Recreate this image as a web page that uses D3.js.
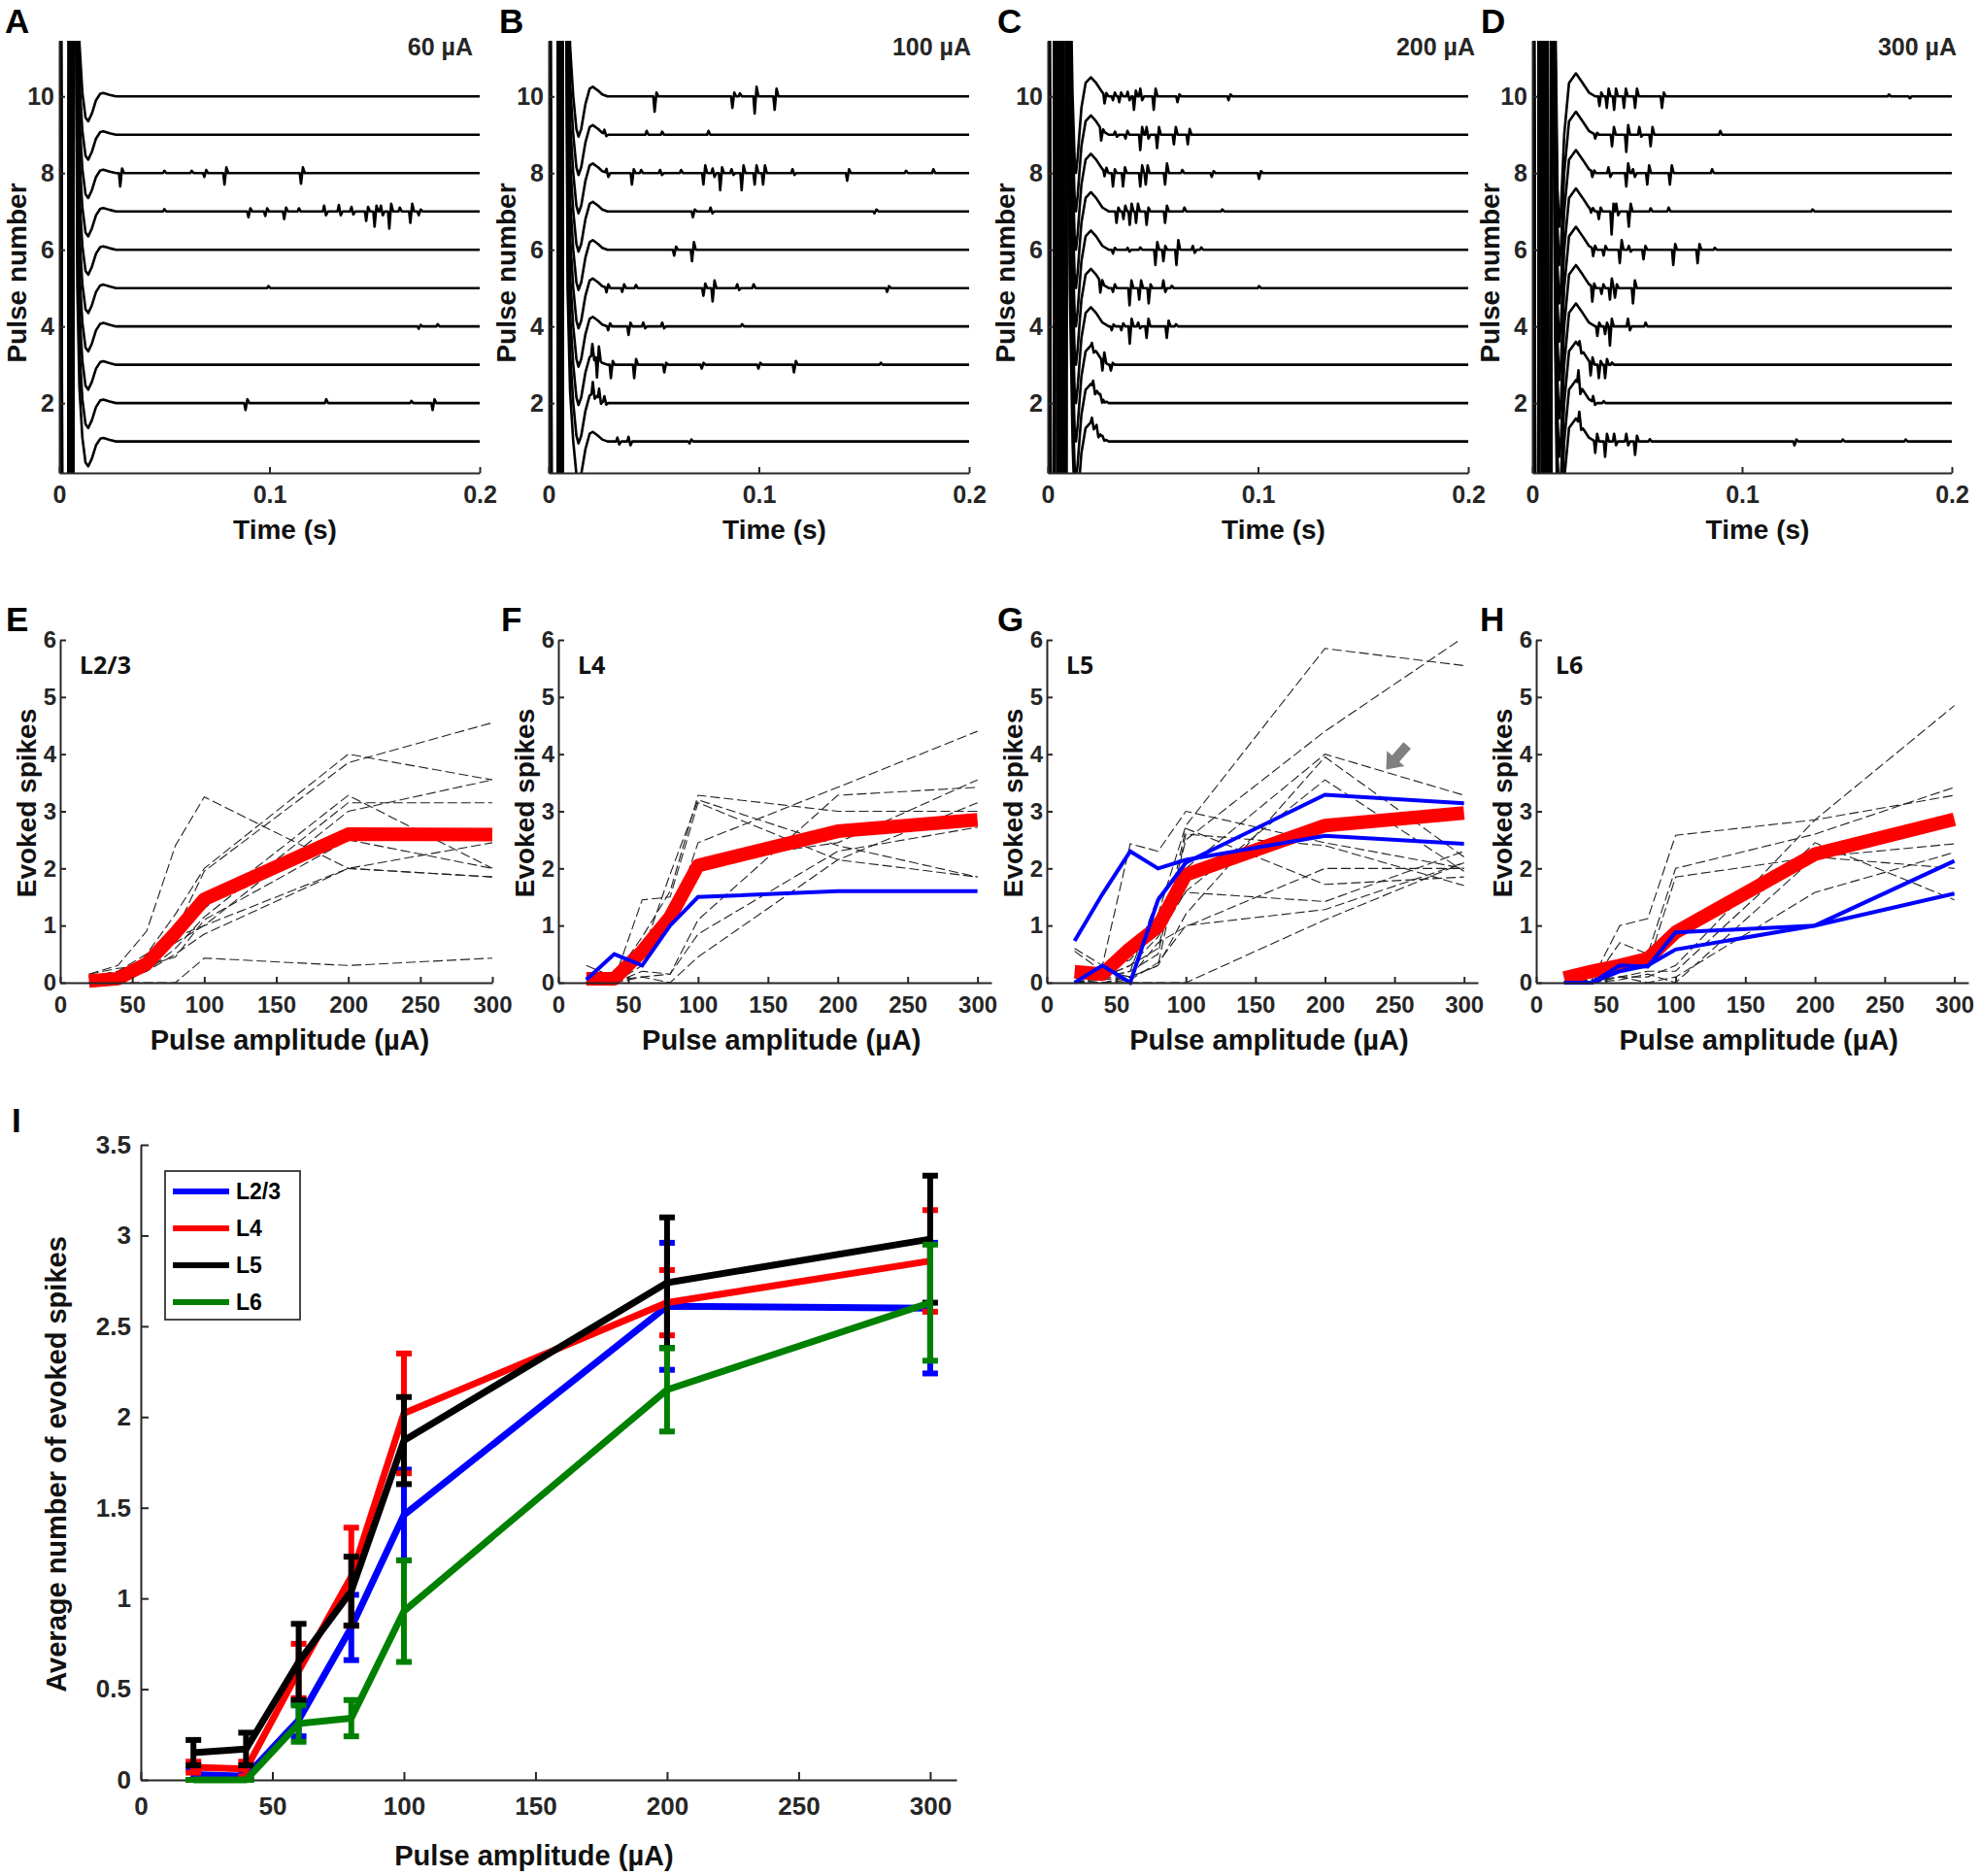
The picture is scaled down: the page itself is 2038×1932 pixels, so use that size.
<!DOCTYPE html>
<html>
<head>
<meta charset="utf-8">
<script src="https://cdn.jsdelivr.net/npm/d3@7"></script>
<style>
body { margin: 0; background: #fff; }
svg { font-family: "Liberation Sans", Arial, sans-serif; font-weight: bold; }
</style>
</head>
<body>
<svg width="2038" height="1932"></svg>
<script>
// ---------- data: raw traces (A-D) ----------
const pulses = [1, 2, 3, 4, 5, 6, 7, 8, 9, 10]
const timeTicks = [0, 0.1, 0.2]
const pulseTicks = [2, 4, 6, 8, 10]
const traceTitles = ["60 µA", "100 µA", "200 µA", "300 µA"]

// stimulus artifact + evoked field shape, [time s, offset in pulse units]
const shape60 = [[0,0],[0.0004,15],[0.0016,-15],[0.0044,-15],[0.0048,15],[0.0058,15],[0.0061,-15],[0.0066,-15],[0.0069,15],[0.0078,15],[0.0086,4],[0.0096,1.4],[0.011,0.1],[0.0125,-0.55],[0.0138,-0.65],[0.0155,-0.45],[0.0175,-0.1],[0.0195,0.07],[0.021,0.09],[0.024,0.04],[0.027,0]]
const shape100 = [[0,0],[0.0004,15],[0.0016,-15],[0.0042,-15],[0.0046,15],[0.0056,15],[0.0059,-15],[0.0064,-15],[0.0068,15],[0.0082,15],[0.009,4],[0.0102,1.3],[0.0117,0],[0.0132,-0.85],[0.0142,-1.05],[0.0155,-0.85],[0.0175,-0.2],[0.0195,0.2],[0.021,0.25],[0.0235,0.15],[0.0255,0.05],[0.028,0]]
const shape200 = [[0,0],[0.0004,15],[0.0016,-15],[0.003,-15],[0.0033,15],[0.0045,15],[0.0048,-15],[0.0058,-15],[0.0061,15],[0.007,15],[0.0073,-15],[0.0086,-15],[0.0089,15],[0.0094,15],[0.0105,4],[0.0118,0],[0.0128,-1.7],[0.0134,-2.0],[0.0142,-1.6],[0.016,-0.3],[0.018,0.35],[0.0205,0.5],[0.023,0.35],[0.026,0.1],[0.029,0]]
const shape300 = [[0,0],[0.0004,15],[0.0016,-15],[0.003,-15],[0.0033,15],[0.0045,15],[0.0048,-15],[0.0058,-15],[0.0061,15],[0.0072,15],[0.0075,-15],[0.0088,-15],[0.0091,15],[0.0097,15],[0.0108,3],[0.012,-2.4],[0.0128,-3.4],[0.0136,-3.0],[0.0152,-1.0],[0.0175,0.35],[0.0208,0.6],[0.024,0.35],[0.027,0.1],[0.03,0]]

// spikes per pulse (pulse 1 first): [time s, peak, rebound]
const spikes60 = [
  [],
  [[0.0886,-0.18,0.1],[0.127,0.1,0],[0.1675,0.06,0],[0.1776,-0.18,0.1]],
  [],
  [[0.171,-0.06,0.04],[0.18,0.06,0]],
  [[0.0995,0.05,0]],
  [],
  [[0.05,0.06,0],[0.09,-0.15,0.08],[0.098,-0.12,0.08],[0.107,-0.2,0.1],[0.114,0.08,0],[0.126,0.15,-0.1],[0.133,0.17,-0.1],[0.139,0.12,-0.08],[0.146,-0.25,0.12],[0.15,-0.4,0.15],[0.153,0.15,-0.1],[0.157,-0.45,0.2],[0.162,0.1,0],[0.167,-0.3,0.2],[0.171,-0.1,0.05]],
  [[0.029,-0.35,0.12],[0.05,0.06,0],[0.063,0.06,0],[0.069,-0.1,0.08],[0.0786,-0.3,0.15],[0.115,-0.28,0.15]],
  [],
  []
]
const spikes100 = [
  [[0.0327,0.1,-0.08],[0.038,0.12,-0.1],[0.067,-0.05,0.05]],
  [[0.021,0.3,-0.1],[0.024,0.25,-0.1],[0.0265,0.15,-0.05]],
  [[0.0208,0.3,-0.1],[0.023,-0.5,0.35],[0.0296,-0.35,0.1],[0.0407,-0.35,0.15],[0.055,-0.2,0.05],[0.0728,-0.1,0.05],[0.0998,-0.1,0.05],[0.1167,-0.2,0.1],[0.158,0.05,0]],
  [[0.0283,-0.1,0.08],[0.038,-0.22,0.1],[0.045,0.1,-0.05],[0.054,0.1,-0.05],[0.092,0.06,0]],
  [[0.0275,-0.12,0.1],[0.035,-0.1,0.1],[0.0415,0.08,0],[0.0736,-0.2,0.12],[0.078,-0.35,0.2],[0.0897,0.1,-0.05],[0.0975,0.1,0],[0.161,-0.1,0.05]],
  [[0.0597,-0.15,0.08],[0.0682,-0.3,0.2]],
  [[0.0686,-0.15,0.05],[0.077,0.1,-0.05],[0.155,-0.05,0.05]],
  [[0.0275,0.1,-0.1],[0.0396,-0.3,0.1],[0.044,0.08,0],[0.053,0.08,-0.05],[0.063,0.08,0],[0.0736,-0.3,0.2],[0.078,0.12,-0.1],[0.0816,-0.45,0.15],[0.087,0.1,-0.05],[0.0918,-0.45,0.2],[0.098,-0.3,0.2],[0.102,-0.3,0.2],[0.116,0.1,-0.05],[0.142,-0.2,0.1],[0.17,0.06,0],[0.183,0.1,0]],
  [[0.0265,0.1,-0.05],[0.0466,0.1,0],[0.054,0.08,0],[0.076,0.1,0]],
  [[0.0504,-0.4,0.1],[0.0874,-0.3,0.1],[0.091,0.08,0],[0.098,-0.45,0.25],[0.1075,-0.35,0.2]]
]
const spikes200 = [
  [[0.021,0.15,-0.1],[0.0232,0.1,-0.15],[0.026,0.05,-0.05]],
  [[0.0216,0.15,-0.15],[0.025,0.05,-0.1],[0.027,-0.05,0]],
  [[0.021,0.1,-0.1],[0.026,-0.25,0.25],[0.03,-0.15,0.05]],
  [[0.0304,-0.1,0.05],[0.035,-0.1,0.08],[0.039,-0.45,0.2],[0.043,0.1,-0.05],[0.047,-0.3,0.2],[0.0566,-0.3,0.15],[0.061,0.06,0]],
  [[0.025,-0.3,0.1],[0.031,-0.1,0.1],[0.0389,-0.45,0.2],[0.0435,-0.3,0.2],[0.048,-0.4,0.1],[0.055,0.2,-0.1],[0.059,0.06,0],[0.1005,0.05,0]],
  [[0.031,-0.1,0.05],[0.038,0.05,-0.05],[0.044,0.06,0],[0.0512,-0.4,0.2],[0.055,-0.3,0.1],[0.0612,-0.4,0.25],[0.069,0.1,-0.08],[0.073,0.06,0]],
  [[0.0327,-0.3,0.1],[0.036,-0.2,0.15],[0.039,-0.35,0.2],[0.042,-0.3,0.2],[0.047,-0.35,0.1],[0.0558,-0.3,0.15],[0.065,0.1,0],[0.083,0.05,0]],
  [[0.027,-0.15,0.1],[0.031,-0.35,0.1],[0.0358,-0.35,0.15],[0.044,-0.35,0.2],[0.0466,-0.3,0.2],[0.0558,-0.3,0.25],[0.064,0.08,0],[0.078,-0.1,0.05],[0.1005,-0.15,0.05]],
  [[0.0254,-0.3,0.05],[0.032,0.08,-0.05],[0.037,-0.1,0.1],[0.044,-0.4,0.2],[0.047,0.2,-0.1],[0.052,-0.35,0.2],[0.06,-0.25,0.2],[0.0666,-0.25,0.15]],
  [[0.027,-0.25,0.05],[0.031,-0.1,0.1],[0.034,-0.15,0.1],[0.038,0.12,-0.1],[0.041,-0.35,0.15],[0.044,0.2,-0.1],[0.0504,-0.35,0.2],[0.0617,-0.15,0.05],[0.086,-0.1,0.05]]
]
const spikes300 = [
  [[0.0224,0.3,-0.1],[0.03,-0.3,0.2],[0.0347,-0.4,0.2],[0.039,0.2,-0.1],[0.0448,0.2,-0.1],[0.049,-0.35,0.15],[0.056,0.06,0],[0.125,-0.1,0.05],[0.148,0.05,0],[0.178,0.05,0]],
  [[0.022,0.35,-0.2],[0.029,0.15,-0.05],[0.034,0.05,0]],
  [[0.0225,0.15,-0.1],[0.0278,-0.35,0.15],[0.0317,-0.35,0.1],[0.0347,-0.35,0.15],[0.038,0.06,0]],
  [[0.031,-0.25,0.1],[0.0347,-0.2,0.1],[0.037,-0.5,0.2],[0.0456,0.2,-0.1],[0.054,0.1,0]],
  [[0.0286,-0.4,0.1],[0.033,-0.15,0.1],[0.037,-0.3,0.25],[0.0394,-0.25,0.1],[0.048,-0.4,0.2]],
  [[0.029,-0.2,0.1],[0.034,-0.15,0.1],[0.0417,-0.35,0.25],[0.046,0.1,-0.05],[0.053,-0.25,0.1],[0.0672,-0.4,0.15],[0.0788,-0.35,0.15],[0.087,0.05,0]],
  [[0.028,-0.1,0.05],[0.0317,-0.2,0.1],[0.0378,-0.6,0.2],[0.04,0.2,-0.1],[0.046,-0.4,0.2],[0.0564,0.08,0],[0.065,0.1,0],[0.1336,0.05,0]],
  [[0.0286,-0.15,0.05],[0.0363,0.15,-0.1],[0.0448,-0.35,0.25],[0.048,0.1,-0.1],[0.0548,-0.3,0.2],[0.0656,-0.3,0.2],[0.0857,0.1,0]],
  [[0.03,-0.1,0.05],[0.038,-0.3,0.2],[0.0448,-0.45,0.25],[0.051,0.2,-0.05],[0.0564,-0.3,0.2],[0.0896,0.1,0]],
  [[0.032,-0.25,0.1],[0.0355,-0.3,0.2],[0.039,-0.35,0.2],[0.0437,-0.3,0.2],[0.049,-0.3,0.2],[0.0618,-0.3,0.1],[0.17,0.05,0],[0.18,-0.05,0]]
]

// ---------- data: per-cell curves (E-H) ----------
const amps = [20, 40, 60, 80, 100, 200, 300]
const ampTicks = [0, 50, 100, 150, 200, 250, 300]
const spikeTicks = [0, 1, 2, 3, 4, 5, 6]

const cellsL23 = [
  [0.15, 0.3, 0.9, 2.4, 3.25, 2.0, 1.85],
  [0.1, 0.2, 0.5, 1.2, 2.0, 4.0, 3.55],
  [0.05, 0.1, 0.3, 0.9, 1.95, 3.85, 4.55],
  [0.1, 0.15, 0.35, 0.8, 1.3, 3.28, 2.0],
  [0, 0.05, 0.2, 0.6, 1.15, 3.15, 3.15],
  [0, 0.1, 0.3, 0.7, 1.0, 3.0, 3.55],
  [0.1, 0.2, 0.4, 0.8, 1.0, 2.0, 2.45],
  [0, 0, 0.2, 0.5, 0.85, 2.0, 1.85],
  [0, 0, 0, 0, 0.43, 0.3, 0.43],
  [0.15, 0.25, 0.3, 0.45, 1.1, 2.5, 2.0]
]
const cellsL4 = [
  [0.3, 0.1, 0.8, 1.6, 3.28, 3.0, 3.0],
  [0.1, 0.05, 1.45, 1.5, 3.15, 2.15, 1.85],
  [0, 0, 0.3, 1.0, 2.45, 3.42, 4.4],
  [0, 0, 0.2, 0.15, 1.1, 3.28, 3.42],
  [0, 0.05, 0.1, 0.15, 0.85, 2.3, 2.72],
  [0, 0, 0.1, 0, 0.45, 2.15, 3.15],
  [0, 0, 0.4, 1.2, 2.1, 2.45, 3.55],
  [0, 0.1, 0.5, 1.9, 3.2, 2.4, 1.85]
]
const cellsL5 = [
  [0.1, 0.2, 0.5, 1.2, 2.75, 5.85, 5.55],
  [0, 0.1, 0.3, 0.6, 2.5, 4.4, 6.05],
  [0.6, 0.3, 2.43, 2.3, 3.0, 2.45, 2.0],
  [0, 0.05, 0.2, 1.5, 2.0, 4.0, 3.28],
  [0, 0.1, 0.3, 0.8, 1.6, 3.55, 1.95],
  [0, 0, 0.1, 0.3, 1.2, 3.95, 2.2],
  [0, 0, 0.05, 0.35, 1.0, 1.28, 2.1],
  [0, 0, 0, 0, 0, 1.1, 2.1],
  [0.1, 0.2, 0.4, 1.0, 1.58, 1.42, 2.3],
  [0, 0.1, 0.2, 0.5, 2.7, 1.72, 1.85],
  [0, 0.05, 0.1, 0.7, 0.98, 2.0, 2.0],
  [0.55, 0.2, 0.1, 0.3, 2.6, 2.4, 1.7]
]
const cellsL6 = [
  [0, 0.05, 1.0, 1.12, 2.58, 2.85, 3.28],
  [0, 0, 0.7, 0.5, 2.0, 2.6, 3.42],
  [0, 0.1, 0.2, 0.3, 1.85, 2.2, 2.43],
  [0, 0, 0.1, 0.1, 0.3, 2.85, 4.85],
  [0, 0, 0.1, 0.2, 0.2, 2.45, 1.45],
  [0, 0.05, 0.1, 0, 0.1, 1.58, 2.28],
  [0, 0, 0.05, 0.15, 0, 2.2, 2.0]
]
const redL23 = [0.03, 0.07, 0.33, 0.87, 1.46, 2.6, 2.59]
const redL4 = [0.07, 0.07, 0.55, 1.15, 2.05, 2.65, 2.85]
const redL5 = [0.19, 0.15, 0.6, 0.98, 1.89, 2.75, 2.97]
const redL6 = [0.08, 0.2, 0.3, 0.42, 0.88, 2.25, 2.86]
const blueL4 = [[0.05, 0.5, 0.3, 1.0, 1.5, 1.6, 1.6]]
const blueL5 = [[0.73, 1.55, 2.3, 2.0, 2.15, 2.57, 2.43], [0, 0.3, 0, 1.45, 2.1, 3.29, 3.14]]
const blueL6 = [[0, 0, 0.3, 0.28, 0.88, 1.0, 2.13], [0, 0, 0.2, 0.3, 0.58, 1.0, 1.56]]

// ---------- data: layer averages (I) ----------
const layers = ["L2/3", "L4", "L5", "L6"]
const layerColors = ["#0000ff", "#ff0000", "#000000", "#008000"]
const meanL23 = [0.03, 0.02, 0.33, 0.84, 1.46, 2.61, 2.60]
const errL23 = [0.03, 0.02, 0.09, 0.18, 0.25, 0.35, 0.36]
const meanL4 = [0.07, 0.06, 0.60, 1.12, 2.02, 2.63, 2.86]
const errL4 = [0.03, 0.04, 0.15, 0.27, 0.33, 0.18, 0.28]
const meanL5 = [0.15, 0.17, 0.65, 1.04, 1.87, 2.74, 2.98]
const errL5 = [0.07, 0.09, 0.21, 0.19, 0.24, 0.36, 0.35]
const meanL6 = [0.00, 0.00, 0.31, 0.34, 0.93, 2.15, 2.63]
const errL6 = [0.00, 0.00, 0.10, 0.10, 0.28, 0.23, 0.32]
const avgTicksY = [0, 0.5, 1, 1.5, 2, 2.5, 3, 3.5]

// ---------- drawing ----------
const svg = d3.select("svg")
const tickColor = "#262626"

function letter(txt, x, y) {
	svg.append("text").attr("x", x).attr("y", y).attr("font-size", 35).attr("fill", "#000").text(txt)
}

function styleAxis(g, size) {
	g.select(".domain").attr("stroke", tickColor).attr("stroke-width", 2)
	g.selectAll(".tick line").attr("stroke", tickColor).attr("stroke-width", 2)
	g.selectAll(".tick text").attr("fill", tickColor).attr("font-size", size)
		.attr("font-family", "'Liberation Sans', Arial, sans-serif").attr("font-weight", "bold")
}

function vLabel(txt, x, y, size) {
	svg.append("text").attr("transform", `translate(${x},${y}) rotate(-90)`)
		.attr("text-anchor", "middle").attr("dominant-baseline", "central")
		.attr("font-size", size).attr("fill", "#111").text(txt)
}

function hLabel(txt, x, y, size) {
	svg.append("text").attr("x", x).attr("y", y).attr("text-anchor", "middle")
		.attr("dominant-baseline", "central").attr("font-size", size).attr("fill", "#111").text(txt)
}

// value of the artifact shape at time t
function shapeAt(shape, t) {
	for (let i = 1; i < shape.length; i++) {
		if (t <= shape[i][0]) {
			const [t0, v0] = shape[i - 1], [t1, v1] = shape[i]
			return v0 + (v1 - v0) * (t - t0) / (t1 - t0)
		}
	}
	return 0
}

function tracePoints(shape, spikes) {
	let pts = shape.slice()
	spikes.forEach(([t, a, b]) => {
		pts = pts.filter(p => p[0] < t - 0.0006 || p[0] > t + 0.0018)
		pts.push([t - 0.0006, shapeAt(shape, t - 0.0006)], [t, shapeAt(shape, t) + a],
			[t + 0.0009, shapeAt(shape, t + 0.0009) + b], [t + 0.0018, shapeAt(shape, t + 0.0018)])
	})
	pts.push([0.2, 0])
	return pts.sort((p, q) => p[0] - q[0])
}

// top row A-D
const topPanels = [
	{ letter: "A", lx: 5, x0: 61, x1: 494, shape: shape60, spikes: spikes60, tdx: -7 },
	{ letter: "B", lx: 514, x0: 565, x1: 998, shape: shape100, spikes: spikes100, tdx: 2 },
	{ letter: "C", lx: 1027, x0: 1079, x1: 1512, shape: shape200, spikes: spikes200, tdx: 7 },
	{ letter: "D", lx: 1525, x0: 1578, x1: 2010, shape: shape300, spikes: spikes300, tdx: 5 }
]
const topY0 = 487, topY1 = 42

topPanels.forEach((p, pi) => {
	const x = d3.scaleLinear().domain([0, 0.2]).range([p.x0, p.x1])
	const y = d3.scaleLinear().domain([0.18, 11.45]).range([topY0, topY1])
	const id = "clipTop" + pi
	svg.append("clipPath").attr("id", id).append("rect")
		.attr("x", p.x0).attr("y", topY1).attr("width", p.x1 - p.x0 + 2).attr("height", topY0 - topY1)
	const g = svg.append("g").attr("clip-path", `url(#${id})`)
	pulses.forEach((k, i) => {
		const line = d3.line().x(d => x(d[0])).y(d => y(k + d[1]))
		g.append("path").attr("d", line(tracePoints(p.shape, p.spikes[i])))
			.attr("fill", "none").attr("stroke", "#000").attr("stroke-width", 2.6)
			.attr("stroke-linejoin", "round")
	})
	const ax = svg.append("g").attr("transform", `translate(0,${topY0})`)
		.call(d3.axisBottom(x).tickValues(timeTicks).tickSize(-6).tickSizeOuter(0).tickPadding(13).tickFormat(d => String(d)))
	styleAxis(ax, 25)
	const ay = svg.append("g").attr("transform", `translate(${p.x0},0)`)
		.call(d3.axisLeft(y).tickValues(pulseTicks).tickSize(-6).tickSizeOuter(0).tickPadding(5).tickFormat(d => String(d)))
	styleAxis(ay, 25)
	svg.append("text").attr("x", p.x1 + p.tdx).attr("y", 57).attr("text-anchor", "end")
		.attr("font-size", 25).attr("fill", tickColor).text(traceTitles[pi])
	letter(p.letter, p.lx, 34)
	vLabel("Pulse number", p.x0 - 44, 281, 28)
	hLabel("Time (s)", (p.x0 + p.x1) / 2 + 16, 545, 28)
})

// middle row E-H
const midPanels = [
	{ letter: "E", lx: 6, x0: 62, xmax: 300, x1: 507, name: "L2/3", cells: cellsL23, red: redL23, blue: [] },
	{ letter: "F", lx: 516, x0: 575, xmax: 310, x1: 1021, name: "L4", cells: cellsL4, red: redL4, blue: blueL4 },
	{ letter: "G", lx: 1027, x0: 1078, xmax: 310, x1: 1522, name: "L5", cells: cellsL5, red: redL5, blue: blueL5 },
	{ letter: "H", lx: 1524, x0: 1582, xmax: 310, x1: 2027, name: "L6", cells: cellsL6, red: redL6, blue: blueL6 }
]
const midY0 = 1012, midY1 = 659

midPanels.forEach((p, pi) => {
	const x = d3.scaleLinear().domain([0, p.xmax]).range([p.x0, p.x1])
	const y = d3.scaleLinear().domain([0, 6]).range([midY0, midY1])
	const line = d3.line().x((d, i) => x(amps[i])).y(d => y(d))
	const id = "clipMid" + pi
	svg.append("clipPath").attr("id", id).append("rect")
		.attr("x", p.x0 - 20).attr("y", midY1).attr("width", p.x1 - p.x0 + 30).attr("height", midY0 - midY1 + 10)
	const g = svg.append("g").attr("clip-path", `url(#${id})`)
	g.selectAll(".cell").data(p.cells).join("path").attr("class", "cell")
		.attr("d", line).attr("fill", "none").attr("stroke", "#222")
		.attr("stroke-width", 1.1).attr("stroke-dasharray", "10,4")
	g.append("path").attr("d", line(p.red)).attr("fill", "none")
		.attr("stroke", "#ff0000").attr("stroke-width", 14).attr("stroke-linejoin", "round")
	g.selectAll(".blue").data(p.blue).join("path").attr("class", "blue")
		.attr("d", line).attr("fill", "none").attr("stroke", "#0000ff").attr("stroke-width", 4)

	const ax = svg.append("g").attr("transform", `translate(0,${midY0})`)
		.call(d3.axisBottom(x).tickValues(ampTicks).tickSize(-6).tickSizeOuter(0).tickPadding(14).tickFormat(d => String(d)))
	styleAxis(ax, 24)
	const ay = svg.append("g").attr("transform", `translate(${p.x0},0)`)
		.call(d3.axisLeft(y).tickValues(spikeTicks).tickSize(-6).tickSizeOuter(0).tickPadding(4).tickFormat(d => String(d)))
	styleAxis(ay, 24)

	svg.append("text").attr("x", p.x0 + 20).attr("y", 694)
		.attr("font-family", "'Noto Sans', 'Open Sans', sans-serif")
		.attr("font-size", 25).attr("fill", "#111").text(p.name)
	letter(p.letter, p.lx, 650)
	vLabel("Evoked spikes", p.x0 - 35, 827, 28)
	hLabel("Pulse amplitude (µA)", (p.x0 + x(300)) / 2 + 14, 1071, 29)

	if (p.letter === "G") {
		// grey arrow pointing at one cell
		const tx = x(244), ty = y(3.73)
		svg.append("path")
			.attr("d", "M0,0 L15,-12 L15,-5 L33,-5 L33,5 L15,5 L15,12 Z")
			.attr("transform", `translate(${tx},${ty}) rotate(-49)`)
			.attr("fill", "#808080")
	}
})

// bottom panel I
const xI = d3.scaleLinear().domain([0, 310]).range([145, 985])
const yI = d3.scaleLinear().domain([0, 3.5]).range([1833, 1179])
const series = [
	{ mean: meanL23, err: errL23 },
	{ mean: meanL4, err: errL4 },
	{ mean: meanL5, err: errL5 },
	{ mean: meanL6, err: errL6 }
]

const axI = svg.append("g").attr("transform", "translate(0,1833)")
	.call(d3.axisBottom(xI).tickValues(ampTicks).tickSize(-8).tickSizeOuter(0).tickPadding(18).tickFormat(d => String(d)))
styleAxis(axI, 26)
const ayI = svg.append("g").attr("transform", "translate(145,0)")
	.call(d3.axisLeft(yI).tickValues(avgTicksY).tickSize(-8).tickSizeOuter(0).tickPadding(10).tickFormat(d => String(d)))
styleAxis(ayI, 26)

const lineI = d3.line().x((d, i) => xI(amps[i])).y(d => yI(d))
series.forEach((s, si) => {
	const col = layerColors[si]
	svg.append("path").attr("d", lineI(s.mean)).attr("fill", "none")
		.attr("stroke", col).attr("stroke-width", 7).attr("stroke-linejoin", "round")
	const bars = svg.append("g").attr("stroke", col).attr("stroke-width", 6)
	s.mean.forEach((m, i) => {
		const xx = xI(amps[i]), lo = yI(m - s.err[i]), hi = yI(m + s.err[i])
		bars.append("line").attr("x1", xx).attr("x2", xx).attr("y1", lo).attr("y2", hi)
		bars.append("line").attr("x1", xx - 8).attr("x2", xx + 8).attr("y1", lo).attr("y2", lo)
		bars.append("line").attr("x1", xx - 8).attr("x2", xx + 8).attr("y1", hi).attr("y2", hi)
	})
})

// legend
const leg = svg.append("g")
leg.append("rect").attr("x", 170).attr("y", 1206).attr("width", 139).attr("height", 153)
	.attr("fill", "#fff").attr("stroke", "#333").attr("stroke-width", 1.8)
layers.forEach((name, i) => {
	const ly = 1227 + i * 38
	leg.append("line").attr("x1", 178).attr("x2", 236).attr("y1", ly).attr("y2", ly)
		.attr("stroke", layerColors[i]).attr("stroke-width", 6)
	leg.append("text").attr("x", 243).attr("y", ly).attr("dominant-baseline", "central")
		.attr("font-size", 23).attr("fill", "#000").text(name)
})

letter("I", 12, 1166)
vLabel("Average number of evoked spikes", 58, 1508, 29)
hLabel("Pulse amplitude (µA)", 550, 1911, 29)
</script>
</body>
</html>
